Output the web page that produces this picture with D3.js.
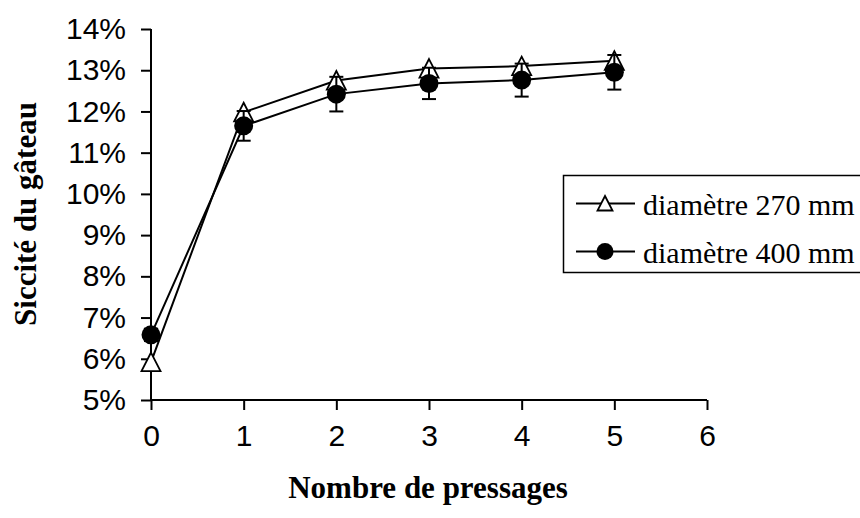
<!DOCTYPE html>
<html>
<head>
<meta charset="utf-8">
<script src="https://cdn.jsdelivr.net/npm/d3@7"></script>
<style>
  html, body { margin: 0; padding: 0; background: #fff; }
  svg { display: block; }
</style>
</head>
<body>
<svg id="chart" width="860" height="518"></svg>
<script>
// ---- data ----
const pressages = [0, 1, 2, 3, 4, 5];
const seriesNames = ["diamètre 270 mm", "diamètre 400 mm"];
const siccite270 = [5.92, 11.98, 12.75, 13.04, 13.10, 13.23];
const siccite400 = [6.58, 11.65, 12.42, 12.68, 12.76, 12.95];
const erreur400 = [0.15, 0.36, 0.42, 0.38, 0.40, 0.42];
const yTicks = [5, 6, 7, 8, 9, 10, 11, 12, 13, 14];
const xTicks = [0, 1, 2, 3, 4, 5, 6];
const xTitle = "Nombre de pressages";
const yTitle = "Siccité du gâteau";

// ---- layout ----
const svg = d3.select("#chart");
const x = d3.scaleLinear().domain([0, 6]).range([151, 707]);
const y = d3.scaleLinear().domain([5, 14]).range([400, 29]);

const sans = "'Liberation Sans', Arial, sans-serif";
const serif = "'Liberation Serif', 'Times New Roman', serif";

// axes
const yAxis = svg.append("g").attr("transform", `translate(${x(0)},0)`)
  .call(d3.axisLeft(y).tickValues(yTicks).tickSize(10).tickPadding(15).tickFormat(d => d + "%"));
const xAxis = svg.append("g").attr("transform", `translate(0,${y(5)})`)
  .call(d3.axisBottom(x).tickValues(xTicks).tickSize(10).tickPadding(15).tickFormat(d3.format("d")));
[yAxis, xAxis].forEach(g => {
  g.attr("font-size", null).attr("font-family", null);
  g.select(".domain").attr("stroke", "#000").attr("stroke-width", 2);
  g.selectAll(".tick line").attr("stroke", "#000").attr("stroke-width", 2);
  g.selectAll(".tick text").attr("fill", "#000").style("font-family", sans).style("font-size", "30px");
});
yAxis.select(".domain").attr("d", `M0,${y(14)}V${y(5)}`);
xAxis.select(".domain").attr("d", `M${x(0)},0H${x(6)}`);

// titles
svg.append("text")
  .attr("x", 428).attr("y", 498)
  .attr("text-anchor", "middle")
  .style("font-family", serif).style("font-weight", "bold").style("font-size", "31px")
  .text(xTitle);
svg.append("text")
  .attr("transform", "translate(36,214) rotate(-90)")
  .attr("text-anchor", "middle")
  .style("font-family", serif).style("font-weight", "bold").style("font-size", "31px")
  .text(yTitle);

const line = d3.line().x((d, i) => x(pressages[i])).y(d => y(d));
const triPath = "M0,-9.5L9.5,9L-9.5,9Z";

// series 270 mm
svg.append("path").datum(siccite270).attr("d", line)
  .attr("fill", "none").attr("stroke", "#000").attr("stroke-width", 2);
svg.append("g").selectAll("path").data(siccite270).join("path")
  .attr("transform", (d, i) => `translate(${x(pressages[i])},${y(d)})`)
  .attr("d", triPath).attr("fill", "#fff").attr("stroke", "#000").attr("stroke-width", 1.8);

// series 400 mm
svg.append("path").datum(siccite400).attr("d", line)
  .attr("fill", "none").attr("stroke", "#000").attr("stroke-width", 2);
const eb = svg.append("g").attr("stroke", "#000").attr("stroke-width", 2);
siccite400.forEach((d, i) => {
  const cx = x(pressages[i]);
  const y1 = y(d - erreur400[i]), y2 = y(d + erreur400[i]);
  eb.append("line").attr("x1", cx).attr("x2", cx).attr("y1", y1).attr("y2", y2);
  eb.append("line").attr("x1", cx - 7).attr("x2", cx + 7).attr("y1", y1).attr("y2", y1);
  eb.append("line").attr("x1", cx - 7).attr("x2", cx + 7).attr("y1", y2).attr("y2", y2);
});
svg.append("g").selectAll("circle").data(siccite400).join("circle")
  .attr("cx", (d, i) => x(pressages[i])).attr("cy", d => y(d))
  .attr("r", 9.5).attr("fill", "#000");

// legend
const lg = svg.append("g");
lg.append("rect").attr("x", 563.5).attr("y", 175.5).attr("width", 310).attr("height", 97)
  .attr("fill", "#fff").attr("stroke", "#000").attr("stroke-width", 1.5);
const rows = [203.5, 251.5];
seriesNames.forEach((name, i) => {
  const ry = rows[i];
  lg.append("line").attr("x1", 576).attr("x2", 635).attr("y1", ry).attr("y2", ry)
    .attr("stroke", "#000").attr("stroke-width", 2);
  if (i === 0) {
    lg.append("path").attr("transform", `translate(605,${ry})`).attr("d", "M0,-7.5L7.5,7L-7.5,7Z")
      .attr("fill", "#fff").attr("stroke", "#000").attr("stroke-width", 1.8);
  } else {
    lg.append("circle").attr("cx", 605).attr("cy", ry).attr("r", 8.5).attr("fill", "#000");
  }
  lg.append("text").attr("x", 643).attr("y", ry + 11.5)
    .style("font-family", serif).style("font-size", "30px").attr("fill", "#000")
    .text(name);
});
</script>
</body>
</html>
